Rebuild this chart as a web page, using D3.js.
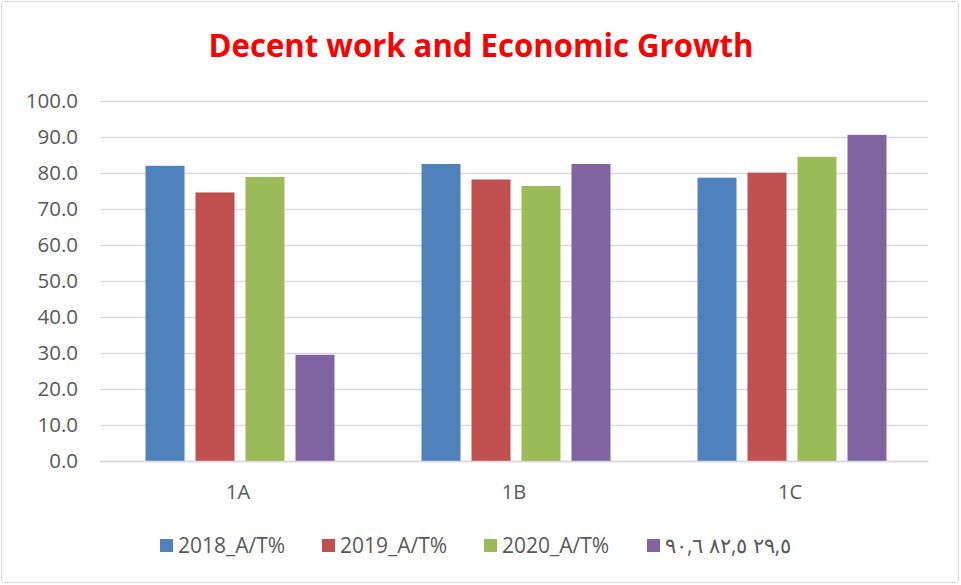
<!DOCTYPE html>
<html>
<head>
<meta charset="utf-8">
<script src="https://cdn.jsdelivr.net/npm/d3@7"></script>
<style>
  body { margin: 0; background: #fff; }
  text { font-family: "Open Sans", sans-serif; }
</style>
</head>
<body>
<script>
var w = 961, h = 585;
var margin = {"left": 100, "right": 33, "top": 101, "bottom": 124};

var categories = ["1A", "1B", "1C"];
var seriesNames = ["2018_A/T%", "2019_A/T%", "2020_A/T%", "٢٩,٥ ٨٢,٥ ٩٠,٦"];
var values2018 = [82.0, 82.5, 78.7];
var values2019 = [74.6, 78.2, 80.1];
var values2020 = [78.9, 76.4, 84.5];
var values4 = [29.5, 82.5, 90.6];
var yTicks = [0, 10, 20, 30, 40, 50, 60, 70, 80, 90, 100];
var colors = ["#4F81BD", "#C0504D", "#9BBB59", "#8064A2"];

var allSeries = [values2018, values2019, values2020, values4];

var svg = d3.select("body")
            .append("svg")
            .attr("width", w)
            .attr("height", h);

// chart border
svg.append("rect")
    .attr("x", 1.5).attr("y", 1.5)
    .attr("width", w - 4).attr("height", h - 4)
    .attr("rx", 3)
    .attr("fill", "#fff")
    .attr("stroke", "#D9D9D9");

svg.append("text")
    .attr("x", 481)
    .attr("y", 57)
    .attr("text-anchor", "middle")
    .attr("fill", "#FF0000")
    .attr("font-family", "Lato, sans-serif")
    .attr("font-size", 33)
    .attr("font-weight", "bold")
    .attr("textLength", 545)
    .attr("lengthAdjust", "spacingAndGlyphs")
    .text("Decent work and Economic Growth");

var x0 = d3.scaleBand()
            .domain(categories)
            .range([margin.left, w - margin.right]);

var x1 = d3.scaleBand()
            .domain(d3.range(seriesNames.length))
            .range([45.5, x0.bandwidth() - 41.5])
            .paddingInner(0.22);

var yScale = d3.scaleLinear()
            .domain([0, 100])
            .range([h - margin.bottom, margin.top]);

var yAxis = d3.axisLeft(yScale)
            .tickValues(yTicks)
            .tickSize(-(w - margin.left - margin.right))
            .tickFormat(d3.format(".1f"));

var gy = svg.append("g")
    .attr("transform", "translate(" + margin.left + ",0)")
    .call(yAxis);
gy.select(".domain").remove();
gy.selectAll(".tick line").attr("stroke", "#D9D9D9").attr("stroke-width", 1.3);
gy.selectAll(".tick text")
    .attr("x", -22)
    .attr("fill", "#595959")
    .attr("font-size", 20.5);

var groups = svg.append("g")
    .selectAll("g")
    .data(categories)
    .enter()
    .append("g")
    .attr("transform", function(d){ return "translate(" + x0(d) + ",0)"; });

groups.selectAll("rect")
    .data(function(d, i){
        return allSeries.map(function(s, j){ return {"s": j, "v": s[i]}; });
    })
    .enter()
    .append("rect")
    .attr("x", function(d){ return x1(d.s); })
    .attr("y", function(d){ return yScale(d.v); })
    .attr("width", x1.bandwidth())
    .attr("height", function(d){ return yScale(0) - yScale(d.v); })
    .attr("fill", function(d){ return colors[d.s]; });

var xAxis = d3.axisBottom(x0).tickSize(0);
var gx = svg.append("g")
    .attr("transform", "translate(0," + yScale(0) + ")")
    .call(xAxis);
gx.select(".domain").attr("stroke", "#D9D9D9").attr("stroke-width", 1.3);
gx.selectAll(".tick text")
    .attr("dy", 0)
    .attr("y", 38)
    .attr("fill", "#595959")
    .attr("font-size", 20);

var legendX = [160, 322, 484, 647];
var legend = svg.append("g")
    .selectAll("g")
    .data(seriesNames)
    .enter()
    .append("g")
    .attr("transform", function(d, i){ return "translate(" + legendX[i] + ",539)"; });

legend.append("rect")
    .attr("width", 13).attr("height", 13)
    .attr("fill", function(d, i){ return colors[i]; });

legend.append("text")
    .attr("x", 18)
    .attr("y", 14)
    .attr("fill", "#595959")
    .attr("font-size", 21)
    .text(function(d){ return d; });
</script>
</body>
</html>
